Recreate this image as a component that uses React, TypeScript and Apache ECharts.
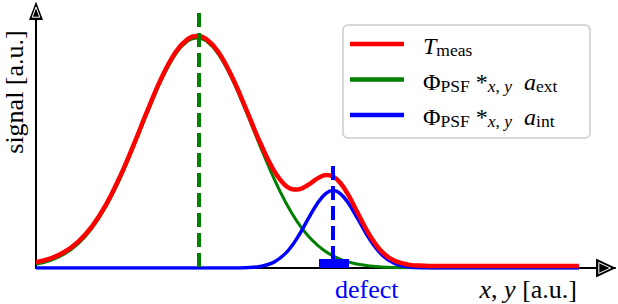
import React, { useEffect, useRef } from 'react';
import * as echarts from 'echarts';

// x positions along the profile (a.u.)
const positions = [
  0, 1.4, 2.8, 4.2, 5.6, 7.0, 8.4, 9.8, 11.2, 12.6,
  14.0, 15.2, 16.1, 17.0, 18.2, 19.6, 21.0, 22.4, 23.8, 25.0,
  26.1, 27.2, 28.2, 29.0, 29.7, 30.4, 31.2, 32.2, 33.4, 34.6,
  35.8, 37.2, 38.8, 40.8, 43.4, 48.4, 54.3,
];
// Phi_PSF *x,y a_ext (green)
const extSignal = [
  0.037, 0.073, 0.137, 0.241, 0.397, 0.614, 0.894, 1.222, 1.568, 1.892,
  2.144, 2.271, 2.300, 2.271, 2.144, 1.892, 1.568, 1.222, 0.894, 0.650,
  0.467, 0.322, 0.223, 0.162, 0.121, 0.088, 0.061, 0.037, 0.020, 0.010,
  0.005, 0.002, 0.001, 0, 0, 0, 0,
];
// Phi_PSF *x,y a_int (blue)
const intSignal = [
  0, 0, 0, 0, 0, 0, 0, 0, 0, 0,
  0, 0, 0, 0, 0, 0, 0.003, 0.015, 0.059, 0.151,
  0.297, 0.488, 0.656, 0.747, 0.775, 0.747, 0.656, 0.488, 0.282, 0.131,
  0.049, 0.012, 0.002, 0, 0, 0, 0,
];
// T_meas (red)
const measSignal = [
  0.057, 0.093, 0.157, 0.261, 0.417, 0.634, 0.914, 1.242, 1.588, 1.912,
  2.164, 2.291, 2.320, 2.291, 2.164, 1.912, 1.591, 1.257, 0.973, 0.821,
  0.784, 0.830, 0.899, 0.929, 0.916, 0.855, 0.737, 0.545, 0.322, 0.161,
  0.074, 0.034, 0.023, 0.020, 0.020, 0.020, 0.020,
];

const extPeakX = 16.3;
const extMarkerTop = 2.55;
const defectX = 29.7;
const defectMarkerTop = 1.02;
const defectStart = 28.3;
const defectEnd = 31.3;
const defectBarHeight = 0.09;

const xMax = 57.9;
const yMax = 2.63;

const nameMeas = 'T_meas';
const nameExt = 'Φ_PSF *x,y a_ext';
const nameInt = 'Φ_PSF *x,y a_int';
const legendOrder = [nameMeas, nameExt, nameInt];
const legendLabels: Record<string, string> = {
  [nameMeas]: '{it|T}{sub|meas}',
  [nameExt]: '{n|Φ}{sub|PSF}{n| *}{subi|x}{sub|, }{subi|y}{it|  a}{sub|ext}',
  [nameInt]: '{n|Φ}{sub|PSF}{n| *}{subi|x}{sub|, }{subi|y}{it|  a}{sub|int}',
};

const SERIF = '"Liberation Serif", "Times New Roman", serif';
const RED = '#ff0000';
const GREEN = '#008000';
const BLUE = '#0000ff';
const seriesColors: Record<string, string> = { [nameMeas]: RED, [nameExt]: GREEN, [nameInt]: BLUE };

const zip = (ys: number[]) => positions.map((x, i) => [x, ys[i]]);

export default function App() {
  const ref = useRef<HTMLDivElement>(null);
  useEffect(() => {
    if (!ref.current) return;
    const chart = echarts.init(ref.current, null, { renderer: 'svg' });
    const mainSize = 24;
    const subSize = 17.5;
    const rich = {
      n: { fontFamily: SERIF, fontSize: mainSize, color: '#000', verticalAlign: 'top' },
      it: { fontFamily: SERIF, fontSize: mainSize, fontStyle: 'italic', color: '#000', verticalAlign: 'top' },
      sub: { fontFamily: SERIF, fontSize: subSize, color: '#000', verticalAlign: 'top', padding: [7, 0, 0, 0] },
      subi: { fontFamily: SERIF, fontSize: subSize, fontStyle: 'italic', color: '#000', verticalAlign: 'top', padding: [7, 0, 0, 0] },
    };

    // legend (drawn by hand for exact placement)
    const legendBoxX = 343;
    const legendBoxY = 25;
    const rowY0 = 44;
    const rowStep = 35.5;
    const legendGraphics: any[] = [
      {
        type: 'rect', z: 5, silent: true,
        shape: { x: legendBoxX, y: legendBoxY, width: 247, height: 113, r: 5 },
        style: { fill: '#ffffff', stroke: '#cccccc', lineWidth: 1.5 },
      },
    ];
    legendOrder.forEach((name, i) => {
      const cy = rowY0 + i * rowStep;
      legendGraphics.push({
        type: 'rect', z: 6, silent: true,
        shape: { x: 350, y: cy - 2.25, width: 54, height: 4.5 },
        style: { fill: seriesColors[name] },
      });
      legendGraphics.push({
        type: 'text', z: 6, silent: true, x: 423, y: cy + 2.5,
        style: {
          text: legendLabels[name], rich, font: `${mainSize}px ${SERIF}`, fill: '#000',
          textAlign: 'left', textVerticalAlign: 'middle',
        },
      });
    });

    chart.setOption({
      animation: false,
      grid: { left: 36, right: 3, top: 5, bottom: 36 },
      xAxis: {
        type: 'value', min: 0, max: xMax,
        axisLine: { show: true, lineStyle: { color: '#000', width: 2 } },
        axisTick: { show: false }, axisLabel: { show: false }, splitLine: { show: false },
      },
      yAxis: {
        type: 'value', min: 0, max: yMax,
        axisLine: { show: true, lineStyle: { color: '#000', width: 2 } },
        axisTick: { show: false }, axisLabel: { show: false }, splitLine: { show: false },
      },
      series: [
        {
          name: nameExt, type: 'line', data: zip(extSignal), showSymbol: false, smooth: 0.4,
          color: GREEN, lineStyle: { color: GREEN, width: 3 }, z: 2,
          markLine: {
            silent: true, symbol: ['none', 'none'], label: { show: false }, z: 8,
            lineStyle: { color: GREEN, width: 4, type: [14, 6] },
            data: [[{ coord: [extPeakX, extMarkerTop] }, { coord: [extPeakX, 0] }]],
          },
        },
        {
          name: nameInt, type: 'line', data: zip(intSignal), showSymbol: false, smooth: 0.4,
          color: BLUE, lineStyle: { color: BLUE, width: 3.5 }, z: 3,
          markLine: {
            silent: true, symbol: ['none', 'none'], label: { show: false }, z: 8,
            lineStyle: { color: BLUE, width: 4, type: [14, 6] },
            data: [[{ coord: [defectX, defectMarkerTop] }, { coord: [defectX, 0] }]],
          },
          markArea: {
            silent: true, z: 7,
            itemStyle: { color: BLUE, opacity: 1 },
            data: [[{ coord: [defectStart, 0] }, { coord: [defectEnd, defectBarHeight] }]],
          },
        },
        {
          name: nameMeas, type: 'line', data: zip(measSignal), showSymbol: false, smooth: 0.4,
          color: RED, lineStyle: { color: RED, width: 4.5 }, z: 4,
        },
      ],
      graphic: [
        ...legendGraphics,
        { type: 'polygon', z: 10, shape: { points: [[36, 1.5], [29, 20], [43, 20]] }, style: { fill: '#000' } },
        { type: 'polygon', z: 11, shape: { points: [[36, 7], [32.2, 17.2], [39.8, 17.2]] }, style: { fill: 'none', stroke: '#fff', lineWidth: 1 } },
        { type: 'polygon', z: 10, shape: { points: [[616, 268], [596, 258.5], [596, 277.5]] }, style: { fill: '#000' } },
        { type: 'polygon', z: 11, shape: { points: [[610.5, 268], [598.8, 262.5], [598.8, 273.5]] }, style: { fill: 'none', stroke: '#fff', lineWidth: 1 } },
        {
          type: 'text', z: 10, x: 14, y: 92, rotation: Math.PI / 2,
          style: { text: 'signal [a.u.]', font: `26px ${SERIF}`, fill: '#000', textAlign: 'center', textVerticalAlign: 'middle' },
        },
        {
          type: 'text', z: 10, x: 335, y: 289,
          style: { text: 'defect', font: `26px ${SERIF}`, fill: BLUE, textAlign: 'left', textVerticalAlign: 'middle' },
        },
        {
          type: 'text', z: 10, x: 577, y: 289,
          style: {
            text: '{i|x}, {i|y} [a.u.]', font: `26px ${SERIF}`, fill: '#000', textAlign: 'right', textVerticalAlign: 'middle',
            rich: { i: { fontStyle: 'italic', fontFamily: SERIF, fontSize: 26 } },
          },
        },
      ],
    });
    return () => chart.dispose();
  }, []);
  return <div ref={ref} style={{ position: 'absolute', left: 0, top: 0, width: 618, height: 304 }} />;
}
